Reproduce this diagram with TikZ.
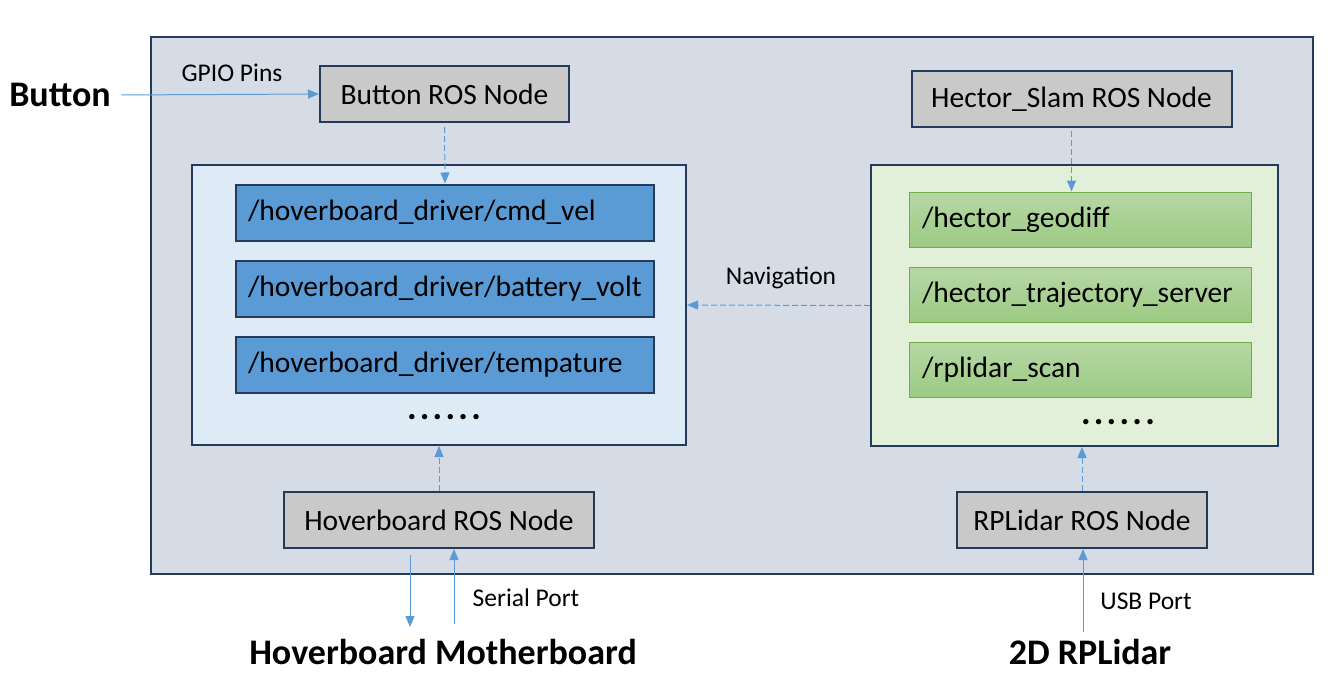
\documentclass[tikz,border=0pt]{standalone}
\usepackage{fontspec}
\setmainfont{Carlito}
\usetikzlibrary{arrows.meta,positioning,calc}

\definecolor{framefill}{HTML}{D6DCE5}
\definecolor{leftfill}{HTML}{DEEBF7}
\definecolor{rightfill}{HTML}{E2F0D9}
\definecolor{nodegray}{HTML}{C9C9C9}
\definecolor{topicblue}{HTML}{5B9BD5}
\definecolor{edge}{HTML}{233A58}
\definecolor{scanedge}{HTML}{70AD47}
\definecolor{scantop}{HTML}{B7D8A6}
\definecolor{scanbot}{HTML}{9CCA82}
\definecolor{linkblue}{HTML}{5B9BD5}

\begin{document}
\begin{tikzpicture}[
    x=1pt, y=-1pt,
    node distance=18pt,
    group/.style={draw=edge, line width=2pt, inner sep=0pt},
    rosnode/.style={draw=edge, line width=2pt, fill=nodegray, minimum height=56pt, font=\fontsize{29.5}{33}\selectfont},
    topic/.style={draw=edge, line width=2pt, fill=topicblue, minimum height=56pt, text width=394pt, inner xsep=12pt, align=left, font=\fontsize{29.5}{33}\selectfont},
    scan/.style={draw=scanedge, line width=1pt, top color=scantop, bottom color=scanbot, minimum height=55pt, text width=316pt, inner xsep=13pt, align=left, font=\fontsize{29.5}{33}\selectfont},
    lbl/.style={font=\fontsize{25.5}{29}\selectfont},
    ext/.style={font=\bfseries\fontsize{36}{40}\selectfont},
    more/.style={inner sep=0pt, font=\bfseries\fontsize{36}{40}\selectfont\addfontfeature{LetterSpace=9}},
    link/.style={draw=linkblue, line width=1pt, -{Triangle[length=11pt,width=9pt]}},
    dlink/.style={link, dash pattern=on 6pt off 3pt}
]
    \useasboundingbox (0,0) rectangle (1341,689);
    \fill[framefill] (151,37) rectangle (1313,574);
    \draw[edge, line width=2pt] (151,37) rectangle (1313,574);

    \node[group, fill=leftfill, minimum width=494pt, minimum height=280pt] (leftgrp) at (439,305) {};
    \node[group, fill=rightfill, minimum width=407pt, minimum height=281pt] (rightgrp) at (1074.5,305.5) {};

    \node[rosnode, minimum width=249pt] (btnnode) at (444.5,94) {Button ROS Node};
    \node[rosnode, minimum width=320pt] (hector) at (1071.5,99) {Hector\_Slam ROS Node};
    \node[rosnode, minimum width=310pt] (hovernode) at (439,520) {Hoverboard ROS Node};
    \node[rosnode, minimum width=250pt] (lidarnode) at (1082,520) {RPLidar ROS Node};

    \node[topic] (velT) at (445,212.5) {/hoverboard\_driver/cmd\_vel};
    \node[topic, below=of velT] (voltT) {/hoverboard\_driver/battery\_volt};
    \node[topic, below=of voltT] (tempT) {/hoverboard\_driver/tempature};
    \node[more] (leftdots) at (444,417) {......};

    \node[scan] (geoT) at (1080,219.5) {/hector\_geodiff};
    \node[scan, below=19pt of geoT] (trajT) {/hector\_trajectory\_server};
    \node[scan, below=19pt of trajT] (scanT) {/rplidar\_scan};
    \node[more] (rightdots) at (1118,422) {......};

    \node[ext] (button) at (60,95) {Button};
    \node[ext] (mboard) at (443,652) {Hoverboard Motherboard};
    \node[ext] (lidar) at (1090,652) {2D RPLidar};

    \node[lbl] (gpio) at (232,73) {GPIO Pins};
    \node[lbl] (nav) at (781,278) {Navigation};
    \node[lbl] (serial) at (526,598) {Serial Port};
    \node[lbl] (usb) at (1146,601) {USB Port};

    \coordinate (txA) at (410,555);
    \coordinate (txB) at (410,627);
    \coordinate (rxA) at (454,624);
    \coordinate (usbA) at (1083,632);

    \draw[link, shorten <=7pt] (button.east) -- (btnnode.west);
    \draw[dlink, shorten <=4pt] (btnnode.south) -- (velT.north);
    \draw[dlink, shorten <=3pt] (hector.south) -- (hector.south |- geoT.north);
    \draw[dlink] (rightgrp.west) -- (leftgrp.east);
    \draw[dlink] (hovernode.north) -- (leftgrp.south);
    \draw[dlink] (lidarnode.north) -- (lidarnode.north |- rightgrp.south);
    \draw[link] (txA) -- (txB);
    \draw[link] (rxA) -- (rxA |- hovernode.south);
    \draw[link] (usbA) -- (usbA |- lidarnode.south);
\end{tikzpicture}
\end{document}
